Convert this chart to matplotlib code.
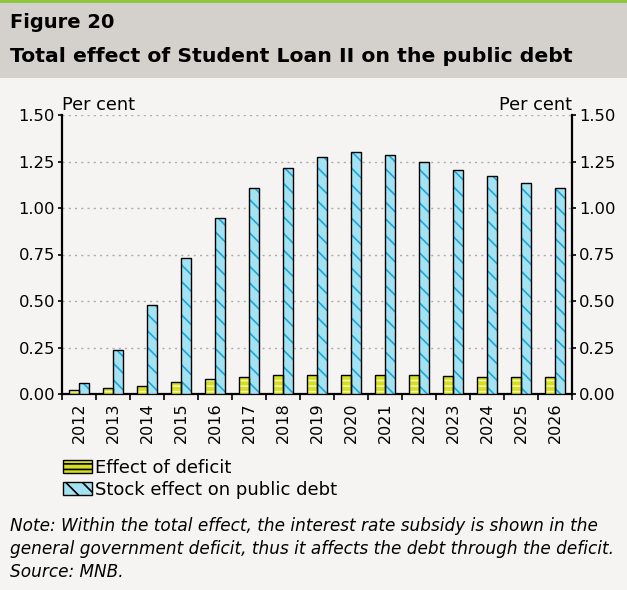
import numpy as np
import matplotlib
matplotlib.use('Agg')
import matplotlib.pyplot as plt
from matplotlib.patches import Rectangle, Patch

years = ['2012', '2013', '2014', '2015', '2016', '2017', '2018', '2019',
         '2020', '2021', '2022', '2023', '2024', '2025', '2026']
deficit_effect = [0.02, 0.03, 0.045, 0.065, 0.08, 0.092, 0.10, 0.103,
                  0.103, 0.103, 0.10, 0.097, 0.093, 0.09, 0.09]
stock_effect = [0.06, 0.235, 0.48, 0.73, 0.945, 1.105, 1.215, 1.275,
                1.30, 1.285, 1.25, 1.205, 1.17, 1.133, 1.105]
yticks = [0.0, 0.25, 0.5, 0.75, 1.0, 1.25, 1.5]

BG = '#f5f4f2'
BAND = '#d4d0cc'
GREEN = '#8dc63f'
YEL_FILL, YEL_HATCH = '#d6de22', '#f3f5a8'
CYAN_FILL, CYAN_HATCH = '#a3e2f3', '#1ba8d8'

plt.rcParams['font.family'] = 'DejaVu Sans'
plt.rcParams['hatch.linewidth'] = 1.2

W, H = 627, 590
fig = plt.figure(figsize=(W / 100, H / 100), dpi=100, facecolor=BG)

# header band
fig.patches.append(Rectangle((0, 1 - 78 / H), 1, 78 / H, transform=fig.transFigure,
                             facecolor=BAND, edgecolor='none', zorder=0))
fig.patches.append(Rectangle((0, 1 - 3 / H), 1, 3 / H, transform=fig.transFigure,
                             facecolor=GREEN, edgecolor='none', zorder=1))
fig.text(10 / W, 1 - 23 / H, 'Figure 20', fontsize=14, fontweight='bold',
         va='center', ha='left')
fig.text(10 / W, 1 - 57 / H, 'Total effect of Student Loan II on the public debt',
         fontsize=14.7, fontweight='bold', va='center', ha='left')

x0, x1, y0, y1 = 62, 572, 394, 115
ax = fig.add_axes([x0 / W, 1 - y0 / H, (x1 - x0) / W, (y0 - y1) / H])
ax.set_facecolor('none')

x = np.arange(len(years))
bw = 0.3
# fill + hatch, then black outline on top
ax.bar(x - bw / 2, deficit_effect, bw, color=YEL_FILL, edgecolor=YEL_HATCH,
       hatch='---', linewidth=0, zorder=3)
ax.bar(x - bw / 2, deficit_effect, bw, color='none', edgecolor='black',
       linewidth=1.0, zorder=4)
ax.bar(x + bw / 2, stock_effect, bw, color=CYAN_FILL, edgecolor=CYAN_HATCH,
       hatch='\\\\', linewidth=0, zorder=3)
ax.bar(x + bw / 2, stock_effect, bw, color='none', edgecolor='black',
       linewidth=1.0, zorder=4)

ax.set_xlim(-0.5, len(years) - 0.5)
ax.set_ylim(0, 1.5)
ax.set_yticks(yticks)
ax.set_yticklabels([f'{v:.2f}' for v in yticks])
ax.tick_params(axis='y', labelsize=11.8, length=3, width=1.2, pad=2,
               right=True, labelright=True)
ax.set_xticks(x)
ax.set_xticklabels(years, rotation=90, fontsize=11.5)
ax.tick_params(axis='x', which='major', length=0, pad=6)
ax.set_xticks(np.arange(-0.5, len(years)), minor=True)
ax.tick_params(axis='x', which='minor', length=4, width=1.2)

for v in yticks[1:]:
    ax.axhline(v, color='#ababab', lw=1.0, ls=(0, (1.5, 3)), zorder=1)

for s in ['left', 'right', 'bottom']:
    ax.spines[s].set_linewidth(1.6)
ax.spines['top'].set_visible(False)

ax.text(0.0, 1.004, 'Per cent', transform=ax.transAxes, fontsize=12.8,
        ha='left', va='bottom')
ax.text(1.0, 1.004, 'Per cent', transform=ax.transAxes, fontsize=12.8,
        ha='right', va='bottom')

handles = [Patch(facecolor=YEL_FILL, edgecolor='black', hatch='---', label='Effect of deficit'),
           Patch(facecolor=CYAN_FILL, edgecolor='black', hatch='\\\\', label='Stock effect on public debt')]
fig.legend(handles=handles, loc='upper left', bbox_to_anchor=(63 / W, 1 - 459 / H),
           frameon=False, fontsize=13, handlelength=1.6, handleheight=0.75,
           handletextpad=0.15, labelspacing=0.2, borderpad=0, borderaxespad=0)

notes = ['Note: Within the total effect, the interest rate subsidy is shown in the',
         'general government deficit, thus it affects the debt through the deficit.',
         'Source: MNB.']
for i, line in enumerate(notes):
    fig.text(10 / W, 1 - (526 + i * 23) / H, line, fontsize=12.2, style='italic',
             va='center', ha='left')

fig.savefig('out.png', dpi=100, facecolor=BG)
